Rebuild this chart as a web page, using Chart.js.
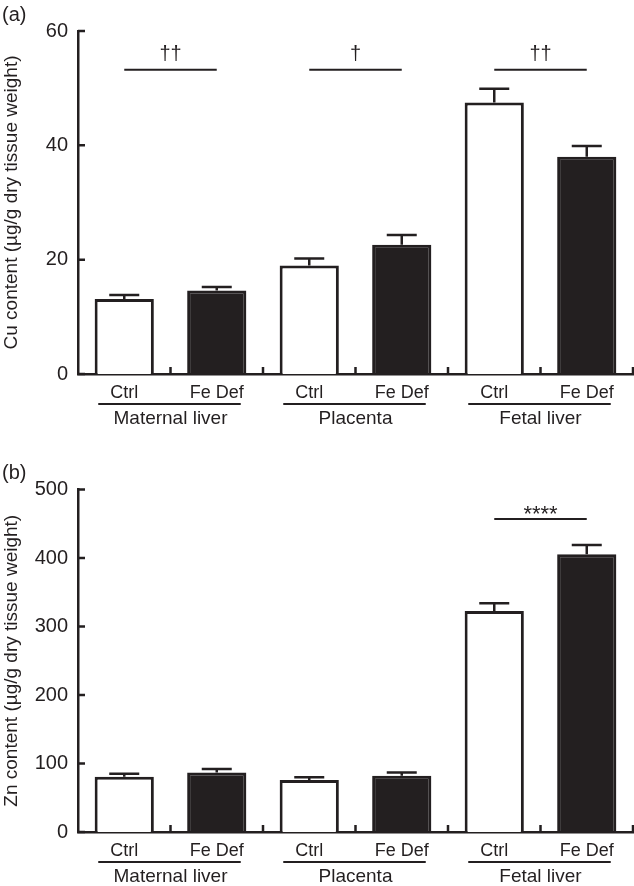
<!DOCTYPE html>
<html>
<head>
<meta charset="utf-8">
<script src="https://cdn.jsdelivr.net/npm/chart.js@4.4.1/dist/chart.umd.min.js"></script>
<style>
  body { margin: 0; background: #fff; width: 634px; height: 886px; position: relative; overflow: hidden;
         font-family: 'Liberation Sans', Arial, Helvetica, sans-serif; color: #231f20; }
  .panel { position: absolute; left: 0; width: 634px; }
  #panelA { top: 0; height: 440px; }
  #panelB { top: 440px; height: 446px; }
  .tag { position: absolute; left: 2px; font-size: 20px; line-height: 23px; }
</style>
</head>
<body>
<div class="panel" id="panelA"><canvas id="cuChart" width="634" height="440"></canvas></div>
<div class="panel" id="panelB"><canvas id="znChart" width="634" height="446"></canvas></div>
<div class="tag" style="top:3px">(a)</div>
<div class="tag" style="top:461px">(b)</div>

<script>
// Data
const tissues = ['Maternal liver', 'Placenta', 'Fetal liver'];
const diets = ['Ctrl', 'Fe Def'];

const cuMean = [13.1, 14.6, 19.0, 22.6, 47.5, 38.0];
const cuSem  = [0.7, 0.6, 1.2, 1.7, 2.4, 1.9];
const cuMarks = ['††', '†', '††'];
const cuMarkLevel = 53.2;
const cuTicks = [0, 20, 40, 60];

const znMean = [80.5, 87.0, 76.0, 82.0, 322.5, 405.5];
const znSem  = [4.5, 4.8, 4.0, 4.7, 11.5, 13.5];
const znMarks = ['', '', '****'];
const znMarkLevel = 457;
const znTicks = [0, 100, 200, 300, 400, 500];

const ink = '#231f20';
const fontName = "'Liberation Sans', Arial, Helvetica, sans-serif";
Chart.defaults.font.family = fontName;
Chart.defaults.color = ink;

const labels = tissues.flatMap(() => diets);

// error bars, inward ticks, group underlines and significance bars
const decor = {
    id: 'decor',
    afterDatasetsDraw(chart, args, opts) {
        const { ctx, chartArea: area, scales: { x, y } } = chart;
        const ds = chart.data.datasets[0];
        const bars = chart.getDatasetMeta(0).data;
        ctx.save();
        ctx.strokeStyle = ink;
        ctx.fillStyle = ink;
        ctx.lineWidth = 2.5;

        // SEM, upper whisker only
        bars.forEach((bar, i) => {
            const top = y.getPixelForValue(ds.data[i] + ds.sem[i]);
            ctx.beginPath();
            ctx.moveTo(bar.x, bar.y);
            ctx.lineTo(bar.x, top);
            ctx.moveTo(bar.x - 15, top);
            ctx.lineTo(bar.x + 15, top);
            ctx.stroke();
        });

        // ticks pointing into the plot
        ctx.beginPath();
        y.ticks.forEach(t => {
            const py = y.getPixelForValue(t.value);
            ctx.moveTo(area.left, py);
            ctx.lineTo(area.left + 7, py);
        });
        for (let i = 1; i <= labels.length; i++) {
            const px = i < labels.length
                ? (x.getPixelForValue(i - 1) + x.getPixelForValue(i)) / 2
                : area.right;
            ctx.moveTo(px, area.bottom);
            ctx.lineTo(px, area.bottom - 7);
        }
        ctx.stroke();

        // tissue names under each pair
        ctx.lineWidth = 2;
        ctx.font = '19px ' + fontName;
        ctx.textAlign = 'center';
        ctx.textBaseline = 'middle';
        tissues.forEach((name, g) => {
            const x0 = x.getPixelForValue(2 * g);
            const x1 = x.getPixelForValue(2 * g + 1);
            ctx.beginPath();
            ctx.moveTo(x0 - 26, area.bottom + 30);
            ctx.lineTo(x1 + 24, area.bottom + 30);
            ctx.stroke();
            ctx.fillText(name, (x0 + x1) / 2, area.bottom + 45);
        });

        // significance bars
        ctx.textBaseline = 'alphabetic';
        const ly = y.getPixelForValue(opts.level);
        opts.marks.forEach((mark, g) => {
            if (!mark) return;
            const x0 = x.getPixelForValue(2 * g);
            const x1 = x.getPixelForValue(2 * g + 1);
            ctx.beginPath();
            ctx.moveTo(x0, ly);
            ctx.lineTo(x1, ly);
            ctx.stroke();
            if (mark.startsWith('*')) {
                ctx.font = '22px ' + fontName;
                ctx.fillText(mark, (x0 + x1) / 2, ly + 2);
            } else {
                ctx.font = '20px ' + fontName;
                ctx.fillText(mark, (x0 + x1) / 2, ly - 10);
            }
        });
        ctx.restore();
    }
};

const createBarChart = (canvasId, mean, sem, ticks, title, marks, level, top, axisHeight) => {
    const ctx = document.getElementById(canvasId);
    return new Chart(ctx, {
        type: 'bar',
        data: {
            labels: labels,
            datasets: [{
                data: mean,
                sem: sem,
                backgroundColor: labels.map((_, i) => i % 2 ? ink : '#ffffff'),
                borderColor: ink,
                borderWidth: 3,
                barPercentage: 0.64,
                categoryPercentage: 1
            }]
        },
        options: {
            responsive: false,
            animation: false,
            layout: { padding: { top: top, right: 1, bottom: 0, left: 0 } },
            plugins: {
                legend: { display: false },
                tooltip: { enabled: false },
                decor: { marks: marks, level: level }
            },
            scales: {
                x: {
                    grid: { display: false, drawTicks: false },
                    border: { color: ink, width: 2.5 },
                    ticks: { color: ink, font: { size: 18 }, padding: 8, maxRotation: 0, autoSkip: false },
                    afterFit: s => { s.height = axisHeight; }
                },
                y: {
                    min: ticks[0],
                    max: ticks[ticks.length - 1],
                    afterBuildTicks: s => { s.ticks = ticks.map(v => ({ value: v })); },
                    grid: { display: false, drawTicks: false },
                    border: { color: ink, width: 2.5 },
                    ticks: { color: ink, font: { size: 20 }, padding: 10 },
                    title: { display: true, text: title, color: ink, font: { size: 19 }, padding: 0 },
                    afterFit: s => { s.width = 78; }
                }
            }
        },
        plugins: [decor]
    });
};

createBarChart('cuChart', cuMean, cuSem, cuTicks, 'Cu content (µg/g dry tissue weight)',
    cuMarks, cuMarkLevel, 31, 66);
createBarChart('znChart', znMean, znSem, znTicks, 'Zn content (µg/g dry tissue weight)',
    znMarks, znMarkLevel, 49.5, 54);
</script>
</body>
</html>
